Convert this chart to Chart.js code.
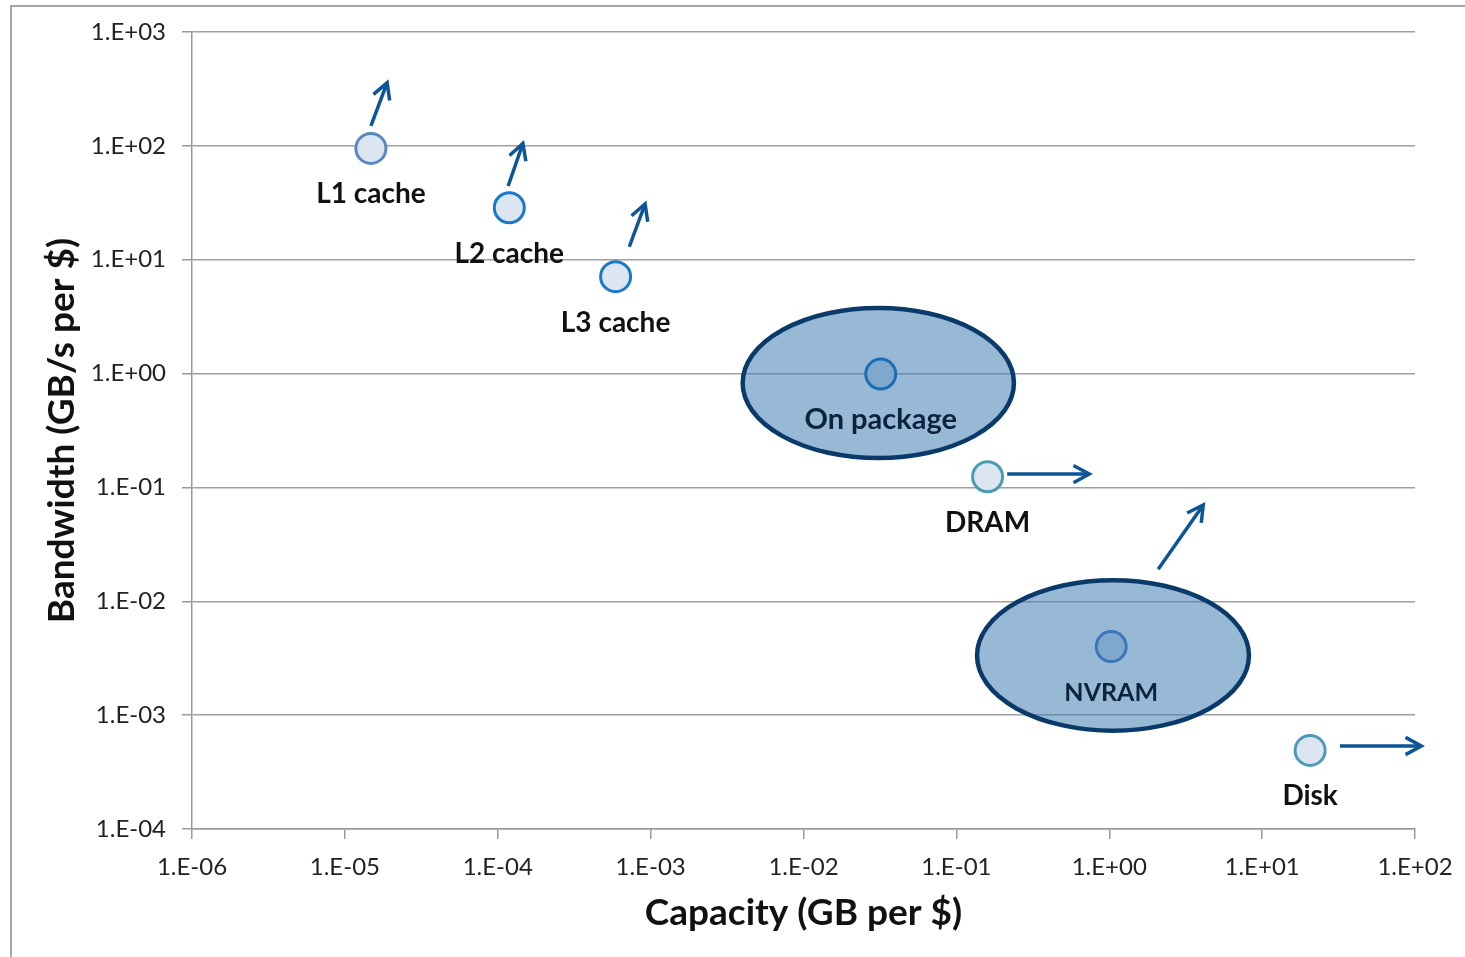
<!DOCTYPE html>
<html lang="en">
<head>
    <meta charset="UTF-8">
    <title>Capacity vs Bandwidth</title>
    <script src="https://cdn.jsdelivr.net/npm/chart.js"></script>
    <style>
        body {
            margin: 0;
            background: #fff;
        }
        #wrap {
            position: relative;
            width: 1465px;
            height: 957px;
        }
        #frame {
            position: absolute;
            left: 10px;
            top: 5px;
            right: 0;
            bottom: 0;
            border-top: 2px solid #a6a6a6;
            border-left: 2px solid #a6a6a6;
            pointer-events: none;
        }
    </style>
</head>
<body>
    <div id="wrap">
        <canvas id="chart" width="1465" height="957"></canvas>
        <div id="frame"></div>
    </div>

    <script>
        // memory levels
        const names = ['L1 cache', 'L2 cache', 'L3 cache', 'On package', 'DRAM', 'NVRAM', 'Disk'];
        const capacity = [1.48e-5, 1.19e-4, 5.9e-4, 3.2e-2, 0.16, 1.03, 20.6];      // GB per $
        const bandwidth = [95, 28.6, 7.1, 0.99, 0.124, 0.004, 4.9e-4];               // GB/s per $

        // trend arrows (tail -> tip)
        const arrowFromX = [1.48e-5, 1.17e-4, 7.25e-4, 0.215, 2.09, 32.3];
        const arrowFromY = [150, 44.4, 13.0, 0.131, 0.0191, 5.36e-4];
        const arrowToX = [1.89e-5, 1.46e-4, 9.2e-4, 0.74, 4.12, 110];
        const arrowToY = [359, 105, 30.9, 0.131, 0.0701, 5.36e-4];

        // shaded regions (x range, y range)
        const regionX0 = [4.0e-3, 0.1365];
        const regionX1 = [0.238, 8.2];
        const regionY0 = [0.181, 7.3e-4];
        const regionY1 = [3.77, 0.0153];

        const xTicks = [1e-6, 1e-5, 1e-4, 1e-3, 1e-2, 1e-1, 1, 10, 100];
        const yTicks = [1e-4, 1e-3, 1e-2, 1e-1, 1, 10, 100, 1000];

        const pointFill = ['#dce6f2', '#dce6f2', '#dce6f2', '#7fa8cd', '#dce6f2', '#80a8cd', '#dce6f2'];
        const pointEdge = ['#5a88c2', '#1a78c8', '#1a78c8', '#1a6db5', '#4a9bb3', '#3b76bb', '#4a9bb3'];
        const labelColor = ['#111', '#111', '#111', '#0c2340', '#111', '#0c2340', '#111'];
        const labelSize = [28, 28, 28, 29, 28, 25, 28];

        const FONT = 'Lato, "Open Sans", sans-serif';

        function sci(v) {
            const e = Math.round(Math.log10(v));
            const s = e < 0 ? '-' : '+';
            return '1.E' + s + String(Math.abs(e)).padStart(2, '0');
        }

        const overlay = {
            id: 'overlay',
            beforeDatasetsDraw(chart) {
                const { ctx, scales: { x, y } } = chart;
                ctx.save();
                for (let i = 0; i < regionX0.length; i++) {
                    const l = x.getPixelForValue(regionX0[i]);
                    const r = x.getPixelForValue(regionX1[i]);
                    const b = y.getPixelForValue(regionY0[i]);
                    const t = y.getPixelForValue(regionY1[i]);
                    ctx.beginPath();
                    ctx.ellipse((l + r) / 2, (t + b) / 2, (r - l) / 2, (b - t) / 2, 0, 0, Math.PI * 2);
                    ctx.fillStyle = 'rgba(68, 128, 181, 0.55)';
                    ctx.fill();
                    ctx.lineWidth = 4.5;
                    ctx.strokeStyle = '#0a3a6a';
                    ctx.stroke();
                }
                ctx.restore();
            },
            afterDatasetsDraw(chart) {
                const { ctx, scales: { x, y } } = chart;
                ctx.save();
                // arrows
                ctx.strokeStyle = '#0d5596';
                ctx.lineWidth = 3.5;
                ctx.lineCap = 'butt';
                ctx.lineJoin = 'miter';
                for (let i = 0; i < arrowFromX.length; i++) {
                    const x0 = x.getPixelForValue(arrowFromX[i]);
                    const y0 = y.getPixelForValue(arrowFromY[i]);
                    const x1 = x.getPixelForValue(arrowToX[i]);
                    const y1 = y.getPixelForValue(arrowToY[i]);
                    const a = Math.atan2(y1 - y0, x1 - x0);
                    ctx.beginPath();
                    ctx.moveTo(x0, y0);
                    ctx.lineTo(x1 - 1.5 * Math.cos(a), y1 - 1.5 * Math.sin(a));
                    ctx.stroke();
                    ctx.beginPath();
                    ctx.moveTo(x1 - 18 * Math.cos(a - 0.5), y1 - 18 * Math.sin(a - 0.5));
                    ctx.lineTo(x1, y1);
                    ctx.lineTo(x1 - 18 * Math.cos(a + 0.5), y1 - 18 * Math.sin(a + 0.5));
                    ctx.stroke();
                }
                // labels
                ctx.textAlign = 'center';
                ctx.textBaseline = 'middle';
                for (let i = 0; i < names.length; i++) {
                    const px = x.getPixelForValue(capacity[i]);
                    const py = y.getPixelForValue(bandwidth[i]);
                    ctx.font = 'bold ' + labelSize[i] + 'px ' + FONT;
                    ctx.fillStyle = labelColor[i];
                    ctx.fillText(names[i], px, py + 46);
                }
                ctx.restore();
            }
        };

        new Chart(document.getElementById('chart'), {
            type: 'scatter',
            data: {
                datasets: [{
                    data: capacity.map((c, i) => ({ x: c, y: bandwidth[i] })),
                    backgroundColor: pointFill,
                    borderColor: pointEdge,
                    borderWidth: 3,
                    pointRadius: 15,
                    pointHoverRadius: 15
                }]
            },
            options: {
                responsive: false,
                animation: false,
                layout: { padding: { top: 32, right: 50, left: 0, bottom: 0 } },
                plugins: {
                    legend: { display: false },
                    tooltip: { enabled: false }
                },
                scales: {
                    x: {
                        type: 'logarithmic',
                        min: 1e-6,
                        max: 100,
                        afterBuildTicks: s => { s.ticks = xTicks.map(v => ({ value: v })); },
                        afterFit: s => {
                            s.height = 128;
                            s.paddingRight = 0;
                        },
                        border: { color: '#999', width: 1.5 },
                        grid: { drawOnChartArea: false, tickLength: 10, tickColor: '#999', lineWidth: 1.5 },
                        ticks: {
                            callback: v => sci(v),
                            autoSkip: false,
                            maxRotation: 0,
                            padding: 14,
                            color: '#222',
                            font: { family: FONT, size: 24 }
                        },
                        title: {
                            display: true,
                            text: 'Capacity (GB per $)',
                            color: '#111',
                            font: { family: FONT, size: 37, weight: 'bold' },
                            padding: { top: 0, bottom: 22 }
                        }
                    },
                    y: {
                        type: 'logarithmic',
                        min: 1e-4,
                        max: 1000,
                        afterBuildTicks: s => { s.ticks = yTicks.map(v => ({ value: v })); },
                        afterFit: s => { s.width = 192; },
                        border: { color: '#999', width: 1.5 },
                        grid: { color: '#a0a0a0', lineWidth: 1.5, tickLength: 10, tickColor: '#999' },
                        ticks: {
                            callback: v => sci(v),
                            autoSkip: false,
                            padding: 16,
                            color: '#222',
                            font: { family: FONT, size: 24 }
                        },
                        title: {
                            display: true,
                            text: 'Bandwidth (GB/s per $)',
                            color: '#111',
                            font: { family: FONT, size: 37, weight: 'bold' },
                            padding: { top: 40, bottom: 0 }
                        }
                    }
                }
            },
            plugins: [overlay]
        });
    </script>
</body>
</html>
